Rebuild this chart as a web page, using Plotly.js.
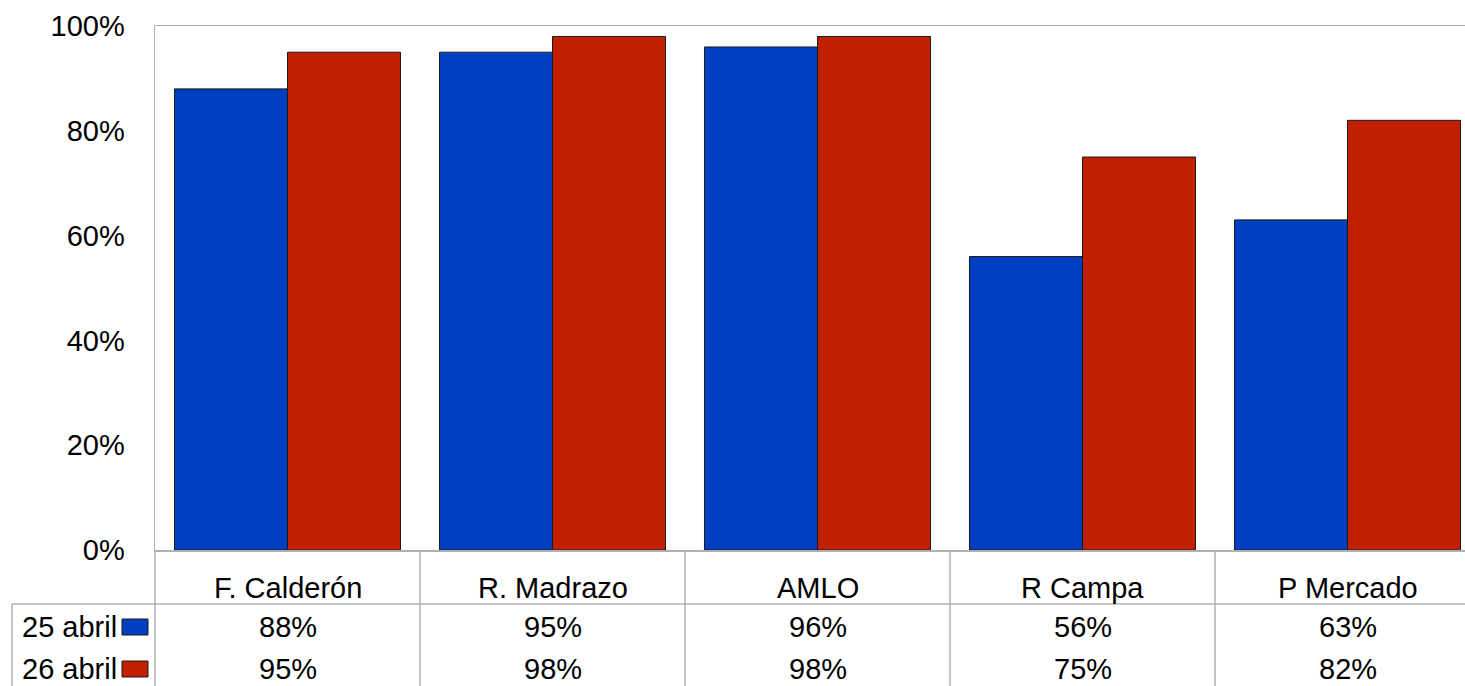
<!DOCTYPE html>
<html>
<head>
<meta charset="utf-8">
<script src="https://cdn.plot.ly/plotly-3.0.1.min.js"></script>
<style>
html,body{margin:0;padding:0;overflow:hidden;background:#fff;}
#chart{width:1480px;height:686px;}
</style>
</head>
<body>
<div id="chart"></div>
<script>
const categories = ["F. Calderón", "R. Madrazo", "AMLO", "R Campa", "P Mercado"];
const seriesNames = ["25 abril", "26 abril"];
const values25 = [0.88, 0.95, 0.96, 0.56, 0.63];
const values26 = [0.95, 0.98, 0.98, 0.75, 0.82];
const seriesColors = ["#0040C0", "#C02000"];
const yTickVals = [0, 0.2, 0.4, 0.6, 0.8, 1.0];

const series = [values25, values26];
const idx = categories.map((_, i) => i);

const FONT = "Liberation Sans, Arial, sans-serif";
const FS = 29;
const gridCol = "#b0b0b0";

// layout metrics (pixels)
const W = 1480, H = 686, mL = 155, mT = 26, mB = 136;
const plotW = W - mL, plotH = H - mT - mB;
const py = p => (H - mB - p) / plotH;      // pixel y -> paper y
const px = p => (p - mL) / plotW;          // pixel x -> paper x

const traces = series.map((vals, s) => ({
  type: "bar",
  name: seriesNames[s],
  x: idx,
  y: vals,
  marker: {color: seriesColors[s], line: {color: "#1a1a1a", width: 1}},
  hoverinfo: "none"
}));

const annotations = [];
const shapes = [];

// category label row
categories.forEach((c, i) => {
  annotations.push({xref: "x", yref: "paper", x: i, y: py(588), text: c,
    showarrow: false, xanchor: "center", yanchor: "middle",
    font: {family: FONT, size: FS, color: "#000"}});
});
// value rows
const rowY = [627, 669];
series.forEach((vals, s) => {
  vals.forEach((v, i) => {
    annotations.push({xref: "x", yref: "paper", x: i, y: py(rowY[s]),
      text: Math.round(v * 100) + "%", showarrow: false,
      xanchor: "center", yanchor: "middle",
      font: {family: FONT, size: FS, color: "#000"}});
  });
  annotations.push({xref: "paper", yref: "paper", x: px(119), y: py(rowY[s]),
    text: seriesNames[s], showarrow: false, xanchor: "right", yanchor: "middle",
    font: {family: FONT, size: FS, color: "#000"}});
  // legend key
  shapes.push({type: "rect", xref: "paper", yref: "paper",
    x0: px(122), x1: px(148), y0: py(rowY[s] - 8), y1: py(rowY[s] + 8),
    fillcolor: seriesColors[s], line: {color: "#1a1a1a", width: 1}});
});

// table lines
shapes.push({type: "line", xref: "paper", yref: "paper",
  x0: px(12), x1: 1, y0: py(604), y1: py(604), line: {color: gridCol, width: 1.5}});
shapes.push({type: "line", xref: "paper", yref: "paper",
  x0: px(12), x1: px(12), y0: py(604), y1: py(H + 5), line: {color: gridCol, width: 1.5}});
shapes.push({type: "line", xref: "paper", yref: "paper",
  x0: 0, x1: 0, y0: 0, y1: py(H + 5), line: {color: gridCol, width: 1.5}});
for (let i = 0; i < categories.length; i++) {
  shapes.push({type: "line", xref: "x", yref: "paper",
    x0: i + 0.5, x1: i + 0.5, y0: 0, y1: py(H + 5), line: {color: gridCol, width: 1.5}});
}

const layout = {
  width: W, height: H,
  margin: {l: mL, r: 0, t: mT, b: mB, pad: 0},
  paper_bgcolor: "#fff", plot_bgcolor: "#fff",
  showlegend: false,
  barmode: "group",
  bargap: 0.147,
  bargroupgap: 0,
  xaxis: {range: [-0.5, categories.length - 0.5], showticklabels: false, ticks: "",
    showgrid: false, zeroline: false, showline: true, mirror: true,
    linecolor: gridCol, linewidth: 1.5, fixedrange: true},
  yaxis: {range: [0, 1], tickvals: yTickVals, tickformat: ".0%", ticks: "",
    showgrid: false, zeroline: false, showline: true, mirror: true,
    linecolor: gridCol, linewidth: 1.5, ticklabelstandoff: 23,
    tickfont: {family: FONT, size: FS, color: "#000"}, fixedrange: true},
  annotations: annotations,
  shapes: shapes,
  font: {family: FONT}
};

Plotly.newPlot("chart", traces, layout, {displayModeBar: false, staticPlot: true});
</script>
</body>
</html>
